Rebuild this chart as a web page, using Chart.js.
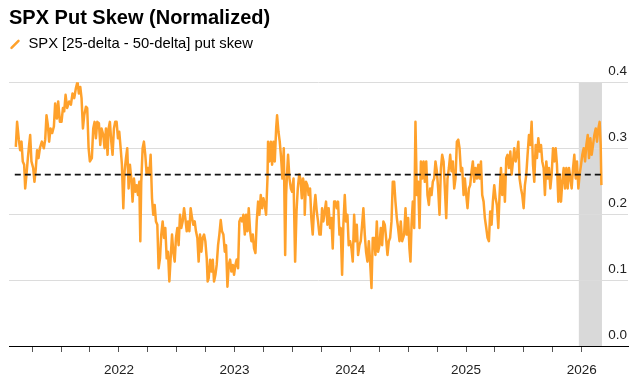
<!DOCTYPE html>
<html>
<head>
<meta charset="utf-8">
<script src="https://cdn.jsdelivr.net/npm/chart.js@4.4.1/dist/chart.umd.min.js"></script>
<style>
  html, body { margin: 0; padding: 0; background: #fff; }
  #wrap { width: 640px; height: 377px; }
</style>
</head>
<body>
<div id="wrap"><canvas id="chart" width="640" height="377"></canvas></div>
<script>
const chartTitle = "SPX Put Skew (Normalized)";
const seriesLabel = "SPX [25-delta - 50-delta] put skew";

// [decimal year, skew]
const putSkew = [
  [2021.109,0.302],[2021.120,0.340],[2021.135,0.313],[2021.146,0.297],[2021.158,0.310],[2021.169,0.280],[2021.181,0.275],[2021.190,0.239],
  [2021.201,0.260],[2021.213,0.285],[2021.224,0.305],[2021.233,0.320],[2021.244,0.280],[2021.259,0.270],[2021.270,0.249],[2021.282,0.270],
  [2021.293,0.297],[2021.305,0.285],[2021.317,0.300],[2021.334,0.310],[2021.351,0.300],[2021.363,0.313],[2021.374,0.350],[2021.386,0.335],
  [2021.397,0.310],[2021.409,0.330],[2021.423,0.323],[2021.438,0.333],[2021.449,0.368],[2021.464,0.345],[2021.475,0.371],[2021.490,0.340],
  [2021.504,0.340],[2021.516,0.361],[2021.527,0.356],[2021.539,0.381],[2021.553,0.361],[2021.570,0.371],[2021.585,0.366],[2021.599,0.383],
  [2021.614,0.376],[2021.628,0.391],[2021.642,0.401],[2021.654,0.383],[2021.666,0.393],[2021.677,0.376],[2021.689,0.330],[2021.700,0.350],
  [2021.715,0.363],[2021.726,0.361],[2021.738,0.300],[2021.749,0.280],[2021.766,0.285],[2021.778,0.330],[2021.790,0.340],[2021.801,0.315],
  [2021.813,0.340],[2021.827,0.338],[2021.839,0.305],[2021.850,0.330],[2021.865,0.320],[2021.876,0.300],[2021.888,0.330],[2021.902,0.290],
  [2021.911,0.330],[2021.922,0.340],[2021.934,0.310],[2021.945,0.290],[2021.957,0.330],[2021.968,0.340],[2021.980,0.340],[2021.992,0.315],
  [2022.003,0.325],[2022.015,0.300],[2022.026,0.275],[2022.038,0.209],[2022.049,0.265],[2022.061,0.285],[2022.072,0.300],[2022.084,0.239],
  [2022.095,0.275],[2022.107,0.254],[2022.118,0.219],[2022.130,0.254],[2022.141,0.234],[2022.153,0.244],[2022.165,0.229],[2022.176,0.249],
  [2022.185,0.159],[2022.193,0.249],[2022.205,0.300],[2022.216,0.310],[2022.228,0.290],[2022.240,0.260],[2022.251,0.270],[2022.263,0.260],
  [2022.274,0.290],[2022.286,0.224],[2022.297,0.199],[2022.309,0.214],[2022.320,0.189],[2022.332,0.184],[2022.343,0.118],[2022.355,0.133],
  [2022.366,0.169],[2022.378,0.189],[2022.390,0.164],[2022.401,0.179],[2022.413,0.133],[2022.424,0.143],[2022.436,0.098],[2022.447,0.133],
  [2022.459,0.169],[2022.470,0.143],[2022.482,0.128],[2022.493,0.164],[2022.505,0.179],[2022.516,0.153],[2022.528,0.199],[2022.539,0.179],
  [2022.551,0.189],[2022.563,0.209],[2022.574,0.194],[2022.586,0.174],[2022.597,0.189],[2022.609,0.174],[2022.620,0.209],[2022.632,0.194],
  [2022.643,0.184],[2022.655,0.189],[2022.666,0.174],[2022.678,0.164],[2022.689,0.128],[2022.701,0.169],[2022.713,0.143],[2022.724,0.164],
  [2022.736,0.169],[2022.747,0.159],[2022.759,0.133],[2022.767,0.098],[2022.776,0.103],[2022.788,0.131],[2022.799,0.113],[2022.811,0.131],
  [2022.822,0.098],[2022.834,0.108],[2022.845,0.123],[2022.857,0.153],[2022.868,0.169],[2022.880,0.191],[2022.891,0.174],[2022.903,0.169],
  [2022.915,0.143],[2022.926,0.153],[2022.938,0.090],[2022.949,0.123],[2022.961,0.131],[2022.972,0.113],[2022.984,0.123],[2022.995,0.108],
  [2023.007,0.123],[2023.018,0.131],[2023.030,0.118],[2023.041,0.189],[2023.053,0.194],[2023.064,0.189],[2023.076,0.199],[2023.088,0.169],
  [2023.099,0.199],[2023.111,0.174],[2023.122,0.209],[2023.134,0.174],[2023.145,0.159],[2023.157,0.169],[2023.168,0.148],[2023.180,0.141],
  [2023.191,0.189],[2023.203,0.219],[2023.214,0.199],[2023.226,0.229],[2023.238,0.209],[2023.249,0.224],[2023.261,0.214],[2023.272,0.199],
  [2023.284,0.254],[2023.289,0.310],[2023.301,0.280],[2023.313,0.310],[2023.324,0.275],[2023.336,0.310],[2023.347,0.280],[2023.359,0.330],
  [2023.367,0.350],[2023.379,0.325],[2023.390,0.310],[2023.402,0.285],[2023.413,0.254],[2023.425,0.300],[2023.437,0.138],[2023.445,0.229],
  [2023.454,0.265],[2023.462,0.290],[2023.474,0.254],[2023.486,0.239],[2023.497,0.234],[2023.509,0.254],[2023.523,0.128],[2023.535,0.204],
  [2023.546,0.239],[2023.558,0.260],[2023.569,0.254],[2023.581,0.224],[2023.592,0.254],[2023.604,0.239],[2023.606,0.199],[2023.617,0.249],
  [2023.629,0.244],[2023.640,0.229],[2023.652,0.239],[2023.663,0.194],[2023.675,0.169],[2023.687,0.209],[2023.698,0.229],[2023.710,0.204],
  [2023.721,0.189],[2023.733,0.169],[2023.744,0.169],[2023.756,0.209],[2023.767,0.189],[2023.779,0.204],[2023.790,0.219],[2023.802,0.184],
  [2023.813,0.209],[2023.825,0.179],[2023.836,0.194],[2023.848,0.148],[2023.860,0.219],[2023.871,0.219],[2023.883,0.209],[2023.894,0.219],
  [2023.906,0.169],[2023.917,0.179],[2023.929,0.108],[2023.940,0.184],[2023.952,0.229],[2023.963,0.189],[2023.975,0.199],[2023.986,0.153],
  [2023.998,0.159],[2024.010,0.148],[2024.021,0.128],[2024.033,0.199],[2024.044,0.159],[2024.056,0.184],[2024.067,0.138],[2024.079,0.153],
  [2024.090,0.159],[2024.102,0.184],[2024.113,0.209],[2024.125,0.169],[2024.136,0.143],[2024.148,0.128],[2024.160,0.159],[2024.171,0.128],
  [2024.183,0.088],[2024.194,0.164],[2024.206,0.164],[2024.217,0.138],[2024.229,0.189],[2024.240,0.143],[2024.252,0.153],[2024.263,0.179],
  [2024.275,0.153],[2024.286,0.189],[2024.298,0.184],[2024.309,0.164],[2024.321,0.138],[2024.333,0.159],[2024.344,0.164],[2024.356,0.189],
  [2024.367,0.249],[2024.379,0.249],[2024.390,0.219],[2024.402,0.194],[2024.413,0.179],[2024.425,0.159],[2024.436,0.189],[2024.448,0.159],
  [2024.465,0.169],[2024.477,0.209],[2024.488,0.169],[2024.500,0.194],[2024.511,0.148],[2024.520,0.128],[2024.529,0.184],[2024.540,0.219],
  [2024.552,0.179],[2024.563,0.340],[2024.575,0.229],[2024.586,0.249],[2024.598,0.179],[2024.610,0.280],[2024.621,0.254],[2024.633,0.280],
  [2024.644,0.249],[2024.656,0.280],[2024.667,0.229],[2024.679,0.214],[2024.690,0.239],[2024.702,0.229],[2024.713,0.249],[2024.725,0.254],
  [2024.736,0.280],[2024.748,0.265],[2024.759,0.239],[2024.771,0.199],[2024.783,0.270],[2024.794,0.290],[2024.806,0.280],[2024.817,0.239],
  [2024.829,0.194],[2024.840,0.254],[2024.852,0.270],[2024.863,0.290],[2024.875,0.265],[2024.886,0.280],[2024.898,0.239],[2024.909,0.254],
  [2024.921,0.310],[2024.933,0.313],[2024.944,0.300],[2024.956,0.265],[2024.967,0.270],[2024.979,0.229],[2024.990,0.254],[2025.002,0.229],
  [2025.013,0.209],[2025.025,0.239],[2025.036,0.244],[2025.048,0.265],[2025.059,0.280],[2025.071,0.249],[2025.082,0.270],[2025.094,0.254],
  [2025.106,0.275],[2025.117,0.254],[2025.129,0.280],[2025.140,0.229],[2025.152,0.219],[2025.163,0.194],[2025.175,0.179],[2025.186,0.164],
  [2025.198,0.159],[2025.209,0.204],[2025.221,0.184],[2025.232,0.219],[2025.244,0.244],[2025.256,0.224],[2025.267,0.214],[2025.279,0.179],
  [2025.290,0.229],[2025.302,0.270],[2025.313,0.229],[2025.325,0.260],[2025.336,0.219],[2025.348,0.285],[2025.359,0.290],[2025.371,0.270],
  [2025.383,0.295],[2025.394,0.260],[2025.406,0.280],[2025.417,0.300],[2025.429,0.280],[2025.440,0.290],[2025.452,0.310],[2025.463,0.254],
  [2025.475,0.239],[2025.486,0.229],[2025.498,0.209],[2025.509,0.244],[2025.521,0.260],[2025.532,0.290],[2025.544,0.320],[2025.556,0.305],
  [2025.567,0.340],[2025.579,0.275],[2025.590,0.249],[2025.602,0.305],[2025.613,0.285],[2025.625,0.315],[2025.636,0.295],[2025.648,0.305],
  [2025.659,0.280],[2025.671,0.270],[2025.682,0.229],[2025.694,0.280],[2025.706,0.254],[2025.717,0.270],[2025.729,0.239],[2025.740,0.260],
  [2025.752,0.300],[2025.763,0.280],[2025.775,0.300],[2025.786,0.275],[2025.798,0.219],[2025.809,0.260],[2025.821,0.219],[2025.832,0.249],
  [2025.844,0.270],[2025.856,0.239],[2025.867,0.270],[2025.879,0.239],[2025.890,0.270],[2025.902,0.254],[2025.913,0.239],[2025.925,0.270],
  [2025.936,0.290],[2025.948,0.254],[2025.959,0.280],[2025.971,0.239],[2025.982,0.260],[2025.994,0.275],[2026.005,0.290],[2026.017,0.300],
  [2026.029,0.280],[2026.040,0.305],[2026.052,0.320],[2026.063,0.285],[2026.075,0.315],[2026.086,0.290],[2026.098,0.305],[2026.109,0.320],
  [2026.121,0.330],[2026.132,0.310],[2026.144,0.330],[2026.155,0.340],[2026.164,0.305],[2026.170,0.244]
];

const averageSkew = 0.26;
const averageSpan = [2021.10, 2026.18];
const shadedSpan = [2025.975, 2026.175];
const yearTicks = [2022, 2023, 2024, 2025, 2026];
const quarterTicks = [2021.25, 2021.5, 2021.75, 2022, 2022.25, 2022.5, 2022.75, 2023, 2023.25, 2023.5, 2023.75,
  2024, 2024.25, 2024.5, 2024.75, 2025, 2025.25, 2025.5, 2025.75, 2026];
const yTicks = [0, 0.1, 0.2, 0.3, 0.4];

const ORANGE = "#FFA12B";
const FONT = "'Liberation Sans', Arial, Helvetica, sans-serif";

Chart.defaults.font.family = FONT;

// grey band for the latest period
const shadePlugin = {
  id: "shade",
  beforeDraw(chart) {
    const { ctx, chartArea, scales: { x } } = chart;
    const x0 = x.getPixelForValue(shadedSpan[0]);
    const x1 = x.getPixelForValue(shadedSpan[1]);
    ctx.save();
    ctx.fillStyle = "#d9d9d9";
    ctx.fillRect(x0, chartArea.top, x1 - x0, chartArea.bottom - chartArea.top);
    ctx.restore();
  },
};

new Chart(document.getElementById("chart"), {
  type: "line",
  data: {
    datasets: [
      {
        label: seriesLabel,
        data: putSkew.map(([x, y]) => ({ x, y })),
        borderColor: ORANGE,
        borderWidth: 2.5,
        borderJoinStyle: "round",
        pointRadius: 0,
        tension: 0,
        order: 1,
      },
      {
        label: "Average",
        data: averageSpan.map((x) => ({ x, y: averageSkew })),
        borderColor: "#111",
        borderWidth: 1.8,
        borderDash: [6, 4],
        pointRadius: 0,
        order: 0,
      },
    ],
  },
  options: {
    responsive: false,
    animation: false,
    devicePixelRatio: 1,
    layout: { padding: { left: 9, right: 0, top: 0, bottom: 0 } },
    plugins: {
      title: {
        display: true,
        text: chartTitle,
        align: "start",
        color: "#000",
        font: { size: 20, weight: "bold" },
        padding: { top: 6, bottom: 7 },
      },
      legend: {
        position: "top",
        align: "start",
        labels: {
          usePointStyle: true,
          boxWidth: 12,
          boxHeight: 7,
          padding: 0,
          color: "#000",
          font: { size: 14.8 },
          generateLabels: () => [
            {
              text: seriesLabel,
              fillStyle: ORANGE,
              strokeStyle: ORANGE,
              lineWidth: 2.5,
              lineCap: "round",
              pointStyle: "line",
              rotation: -45,
              datasetIndex: 0,
              hidden: false,
            },
          ],
        },
      },
      tooltip: { enabled: false },
    },
    scales: {
      x: {
        type: "linear",
        min: 2021.05,
        max: 2026.40,
        afterBuildTicks: (scale) => {
          scale.ticks = quarterTicks.map((value) => ({ value }));
        },
        afterFit: (scale) => {
          scale.height = 31;
        },
        grid: { drawOnChartArea: false, drawTicks: true, tickLength: 6, tickColor: "#555" },
        border: { display: true, color: "#000", width: 1 },
        ticks: {
          autoSkip: false,
          maxRotation: 0,
          padding: 10,
          color: "#222",
          font: { size: 13.5 },
          callback: (v) => (yearTicks.includes(v) ? String(v) : ""),
        },
      },
      // empty spacer between the legend and the plot
      xTop: {
        type: "linear",
        position: "top",
        grid: { display: false },
        border: { display: false },
        ticks: { display: false },
        afterFit: (scale) => {
          scale.height = 20.5;
        },
      },
      y: {
        position: "right",
        min: 0,
        max: 0.4,
        afterBuildTicks: (scale) => {
          scale.ticks = yTicks.map((value) => ({ value }));
        },
        afterFit: (scale) => {
          scale.width = 12;
        },
        grid: { color: "#dcdcdc", drawTicks: false, lineWidth: 1 },
        border: { display: false },
        ticks: {
          mirror: true,
          padding: -1,
          labelOffset: -11,
          color: "#222",
          font: { size: 13.5 },
          callback: (v) => v.toFixed(1),
        },
      },
    },
  },
  plugins: [shadePlugin],
});
</script>
</body>
</html>
